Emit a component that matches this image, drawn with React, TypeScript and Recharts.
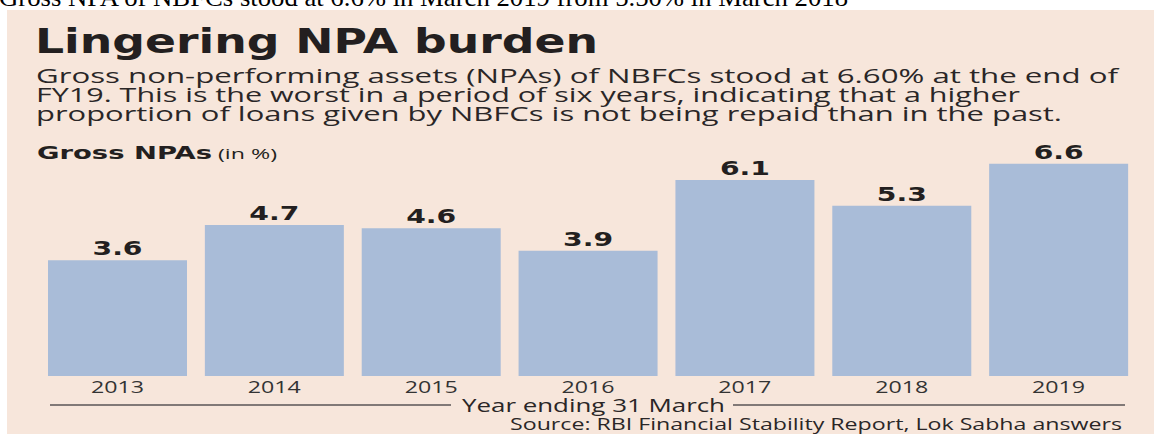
import React from "react"
import { BarChart, Bar, XAxis, YAxis, LabelList } from "recharts"

const years = ["2013", "2014", "2015", "2016", "2017", "2018", "2019"]
const grossNpa = [3.6, 4.7, 4.6, 3.9, 6.1, 5.3, 6.6]
const yDomain = [0, 7]

const subtitle = [
  "Gross non-performing assets (NPAs) of NBFCs stood at 6.60% at the end of",
  "FY19. This is the worst in a period of six years, indicating that a higher",
  "proportion of loans given by NBFCs is not being repaid than in the past.",
]
const subtitleWidths = [1082, 984, 1026]

const data = years.map((year, i) => ({ year, value: grossNpa[i] }))

const ink = "#231f20"
const sans = "'Open Sans', 'DejaVu Sans', sans-serif"
const heavy = "'DejaVu Sans', sans-serif"

function YearTick(props: any) {
  const { x, y, payload } = props
  return (
    <text
      x={x}
      y={y}
      dy={17}
      textAnchor="middle"
      fontFamily={sans}
      fontSize={17}
      fill="#333"
      textLength={53}
      lengthAdjust="spacingAndGlyphs"
    >
      {payload.value}
    </text>
  )
}

function ValueLabel(props: any) {
  const { x, y, width, value } = props
  return (
    <text
      x={x + width / 2}
      y={y - 5}
      textAnchor="middle"
      fontFamily={heavy}
      fontWeight={700}
      fontSize={19}
      fill={ink}
      textLength={50}
      lengthAdjust="spacingAndGlyphs"
    >
      {value.toFixed(1)}
    </text>
  )
}

export default function App() {
  return (
    <div style={{ position: "absolute", left: 0, top: 0, width: 1154, height: 434, background: "#fff", overflow: "hidden" }}>
      <div style={{ position: "absolute", left: 7, top: 10, width: 1147, height: 424, background: "#f7e6db" }} />

      <div style={{ position: "absolute", left: 0, top: 0 }}>
        <BarChart width={1154} height={434} data={data} margin={{ top: 151, right: 17, bottom: 28, left: 39 }}>
          <YAxis hide domain={yDomain} />
          <XAxis
            dataKey="year"
            height={30}
            axisLine={false}
            tickLine={false}
            tickSize={0}
            tickMargin={0}
            interval={0}
            tick={<YearTick />}
          />
          <Bar dataKey="value" fill="#a9bcd8" barSize={139} isAnimationActive={false}>
            <LabelList dataKey="value" content={<ValueLabel />} />
          </Bar>
        </BarChart>
      </div>

      <svg width={1154} height={434} style={{ position: "absolute", left: 0, top: 0, pointerEvents: "none" }}>
        <text x={-1} y={6} fontFamily="'Liberation Serif', serif" fontSize={26} fill="#000" textLength={849} lengthAdjust="spacingAndGlyphs">
          Gross NPA of NBFCs stood at 6.6% in March 2019 from 5.50% in March 2018
        </text>

        <text x={35} y={53} fontFamily={heavy} fontWeight={700} fontSize={34} fill={ink} textLength={563} lengthAdjust="spacingAndGlyphs">
          Lingering NPA burden
        </text>

        {subtitle.map((line, i) => (
          <text
            key={i}
            x={36}
            y={82.5 + i * 19.3}
            fontFamily={sans}
            fontSize={19.5}
            fill="#2a2627"
            textLength={subtitleWidths[i]}
            lengthAdjust="spacingAndGlyphs"
          >
            {line}
          </text>
        ))}

        <text x={37} y={159} fontFamily={heavy} fontWeight={700} fontSize={17} fill={ink} textLength={175} lengthAdjust="spacingAndGlyphs">
          Gross NPAs
        </text>
        <text x={218} y={159} fontFamily={sans} fontSize={14} fill={ink} textLength={59} lengthAdjust="spacingAndGlyphs">
          (in %)
        </text>

        <line x1={50} x2={451} y1={405} y2={405} stroke="#5a5556" strokeWidth={1.5} />
        <line x1={733} x2={1125} y1={405} y2={405} stroke="#5a5556" strokeWidth={1.5} />
        <text x={462} y={412} fontFamily={sans} fontSize={18} fill="#2a2627" textLength={263} lengthAdjust="spacingAndGlyphs">
          Year ending 31 March
        </text>

        <text x={510} y={429.5} fontFamily={sans} fontSize={16} fill="#2a2627" textLength={612} lengthAdjust="spacingAndGlyphs">
          Source: RBI Financial Stability Report, Lok Sabha answers
        </text>
      </svg>
    </div>
  )
}
